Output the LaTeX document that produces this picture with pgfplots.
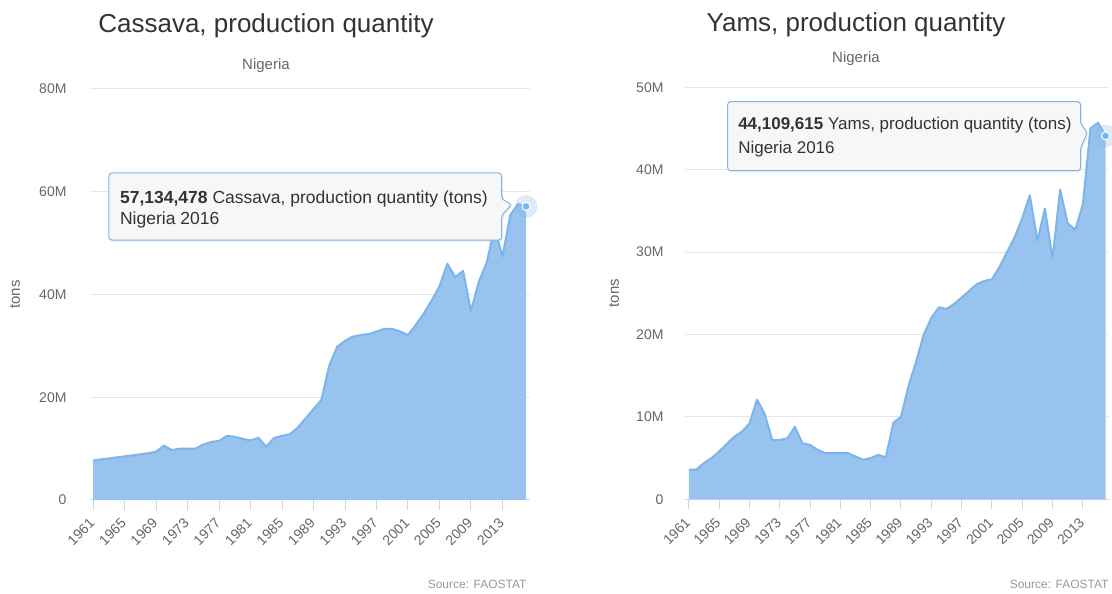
\documentclass[border=0pt]{standalone}
\usepackage{fontspec}
\setmainfont{Liberation Sans}
\usepackage{pgfplots}
\usepackage{pgfplotstable}
\pgfplotsset{compat=1.18}
\usetikzlibrary{shadows}
\definecolor{areac}{HTML}{97C3EE}
\definecolor{linec}{HTML}{7CB5EC}
\definecolor{gridc}{HTML}{E6E6E6}
\definecolor{axisc}{HTML}{CCD6EB}
\definecolor{tickc}{HTML}{666666}
\definecolor{titlec}{HTML}{333333}
\definecolor{subc}{HTML}{666666}
\definecolor{tipbg}{HTML}{F7F7F7}

\pgfplotstableread{
year val
1961 7.7
1962 7.9
1963 8.1
1964 8.3
1965 8.5
1966 8.7
1967 8.9
1968 9.1
1969 9.4
1970 10.6
1971 9.7
1972 10.0
1973 10.0
1974 10.0
1975 10.8
1976 11.3
1977 11.5
1978 12.5
1979 12.3
1980 11.9
1981 11.6
1982 12.1
1983 10.4
1984 12.1
1985 12.5
1986 12.8
1987 14.1
1988 15.9
1989 17.7
1990 19.5
1991 26.2
1992 29.8
1993 31.0
1994 31.8
1995 32.1
1996 32.3
1997 32.8
1998 33.3
1999 33.3
2000 32.8
2001 32.1
2002 34.1
2003 36.3
2004 38.8
2005 41.6
2006 46.0
2007 43.4
2008 44.6
2009 36.8
2010 42.5
2011 46.2
2012 53.0
2013 47.4
2014 55.5
2015 57.6
2016 57.134478
}\cassava

\pgfplotstableread{
year val
1961 3.6
1962 3.6
1963 4.4
1964 5.0
1965 5.8
1966 6.7
1967 7.6
1968 8.2
1969 9.2
1970 12.1
1971 10.4
1972 7.2
1973 7.2
1974 7.4
1975 8.8
1976 6.8
1977 6.6
1978 6.0
1979 5.6
1980 5.6
1981 5.6
1982 5.6
1983 5.2
1984 4.8
1985 5.0
1986 5.4
1987 5.1
1988 9.3
1989 10.0
1990 13.8
1991 16.7
1992 20.0
1993 22.0
1994 23.3
1995 23.1
1996 23.7
1997 24.5
1998 25.3
1999 26.1
2000 26.5
2001 26.7
2002 28.2
2003 30.0
2004 31.8
2005 34.1
2006 36.9
2007 31.4
2008 35.3
2009 29.2
2010 37.6
2011 33.5
2012 32.7
2013 35.8
2014 45.0
2015 45.7
2016 44.109615
}\yams

\pgfplotsset{
  fao/.style={
    scale only axis, anchor=south west,
    axis lines*=left,
    x axis line style={axisc, line width=1pt, -},
    y axis line style={draw=none},
    ytick style={draw=none},
    xtick style={axisc, line width=1pt},
    tick align=outside, major tick length=10pt,
    ymajorgrids, major grid style={gridc, line width=1pt},
    xtick={1961,1965,...,2013},
    xticklabels={1961,1965,1969,1973,1977,1981,1985,1989,1993,1997,2001,2005,2009,2013},
    xticklabel style={rotate=45, anchor=east, font=\fontsize{14}{16}\selectfont, text=tickc, xshift=-5pt, yshift=-7pt},
    yticklabel style={font=\fontsize{14}{16}\selectfont, text=tickc},
    ylabel={tons},
    ylabel style={font=\fontsize{15}{17}\selectfont, text=tickc, anchor=center},
    enlargelimits=false, clip=false,
  }
}

\begin{document}
\begin{tikzpicture}
\path[use as bounding box] (0,0) rectangle (1112pt,594pt);

% ---------- Left: Cassava ----------
\begin{axis}[fao,
  at={(90pt,94pt)}, width=440pt, height=411pt,
  xmin=1960.6, xmax=2016.5, ymin=0, ymax=80,
  ytick={0,20,40,60,80}, yticklabels={0,20M,40M,60M,80M},
  yticklabel style={xshift=-10pt},
  ylabel style={at={(axis description cs:-0.1705,0.5)}},
]
\addplot[fill=areac, draw=none] table[x=year,y=val] {\cassava} \closedcycle;
\addplot[linec, line width=2pt, line join=round] table[x=year,y=val] {\cassava};
\addplot[only marks, mark=*, mark size=11pt, color=linec, opacity=0.25] coordinates {(2016,57.134478)};
\addplot[only marks, mark=*, mark size=4pt, fill=linec, draw=white, line width=1pt] coordinates {(2016,57.134478)};
\fill[tipbg, draw=linec, line width=1pt, rounded corners=3pt, drop shadow={opacity=0.12, shadow xshift=1.5pt, shadow yshift=-1.5pt}]
  (axis cs:1963.0,50.6) -- (axis cs:1963.0,63.65) -- (axis cs:2012.9,63.65) -- (axis cs:2012.9,58.6)
  -- (axis cs:2014.2,57.5) -- (axis cs:2012.9,55.4) -- (axis cs:2012.9,50.6) -- cycle;
\node[anchor=base west, inner sep=0pt, text=titlec, font=\fontsize{17.5}{20}\selectfont] at (axis cs:1964.4,57.7) {\textbf{57,134,478} Cassava, production quantity (tons)};
\node[anchor=base west, inner sep=0pt, text=titlec, font=\fontsize{17.5}{20}\selectfont] at (axis cs:1964.4,53.6) {Nigeria 2016};
\end{axis}
\node[anchor=base, text=titlec, font=\fontsize{26}{29}\selectfont] at (266pt,561pt) {Cassava, production quantity};
\node[anchor=base, text=subc, font=\fontsize{15}{17}\selectfont] at (266pt,524pt) {Nigeria};
\node[anchor=base east, text=gray!80, font=\fontsize{12}{14}\selectfont] at (530pt,5pt) {Source: FAOSTAT};

% ---------- Right: Yams ----------
\begin{axis}[fao,
  at={(685pt,94.7pt)}, width=424pt, height=412pt,
  xmin=1960.5, xmax=2016.45, ymin=0, ymax=50,
  ytick={0,10,20,30,40,50}, yticklabels={0,10M,20M,30M,40M,50M},
  yticklabel style={xshift=-8pt},
  ylabel style={at={(axis description cs:-0.1675,0.5)}},
]
\addplot[fill=areac, draw=none] table[x=year,y=val] {\yams} \closedcycle;
\addplot[linec, line width=2pt, line join=round] table[x=year,y=val] {\yams};
\addplot[only marks, mark=*, mark size=11pt, color=linec, opacity=0.25] coordinates {(2016,44.109615)};
\addplot[only marks, mark=*, mark size=4pt, fill=linec, draw=white, line width=1pt] coordinates {(2016,44.109615)};
\fill[tipbg, draw=linec, line width=1pt, rounded corners=3pt, drop shadow={opacity=0.12, shadow xshift=1.5pt, shadow yshift=-1.5pt}]
  (axis cs:1966.13,39.88) -- (axis cs:1966.13,48.25) -- (axis cs:2012.69,48.25) -- (axis cs:2012.69,45.6)
  -- (axis cs:2013.6,44.5) -- (axis cs:2012.69,42.6) -- (axis cs:2012.69,39.88) -- cycle;
\node[anchor=base west, inner sep=0pt, text=titlec, font=\fontsize{17}{20}\selectfont] at (axis cs:1967.5,44.85) {\textbf{44,109,615} Yams, production quantity (tons)};
\node[anchor=base west, inner sep=0pt, text=titlec, font=\fontsize{17}{20}\selectfont] at (axis cs:1967.5,42.0) {Nigeria 2016};
\end{axis}
\node[anchor=base, text=titlec, font=\fontsize{26}{29}\selectfont] at (856pt,562pt) {Yams, production quantity};
\node[anchor=base, text=subc, font=\fontsize{15}{17}\selectfont] at (856pt,531pt) {Nigeria};
\node[anchor=base east, text=gray!80, font=\fontsize{12}{14}\selectfont] at (1112pt,5pt) {Source: FAOSTAT};
\end{tikzpicture}
\end{document}
